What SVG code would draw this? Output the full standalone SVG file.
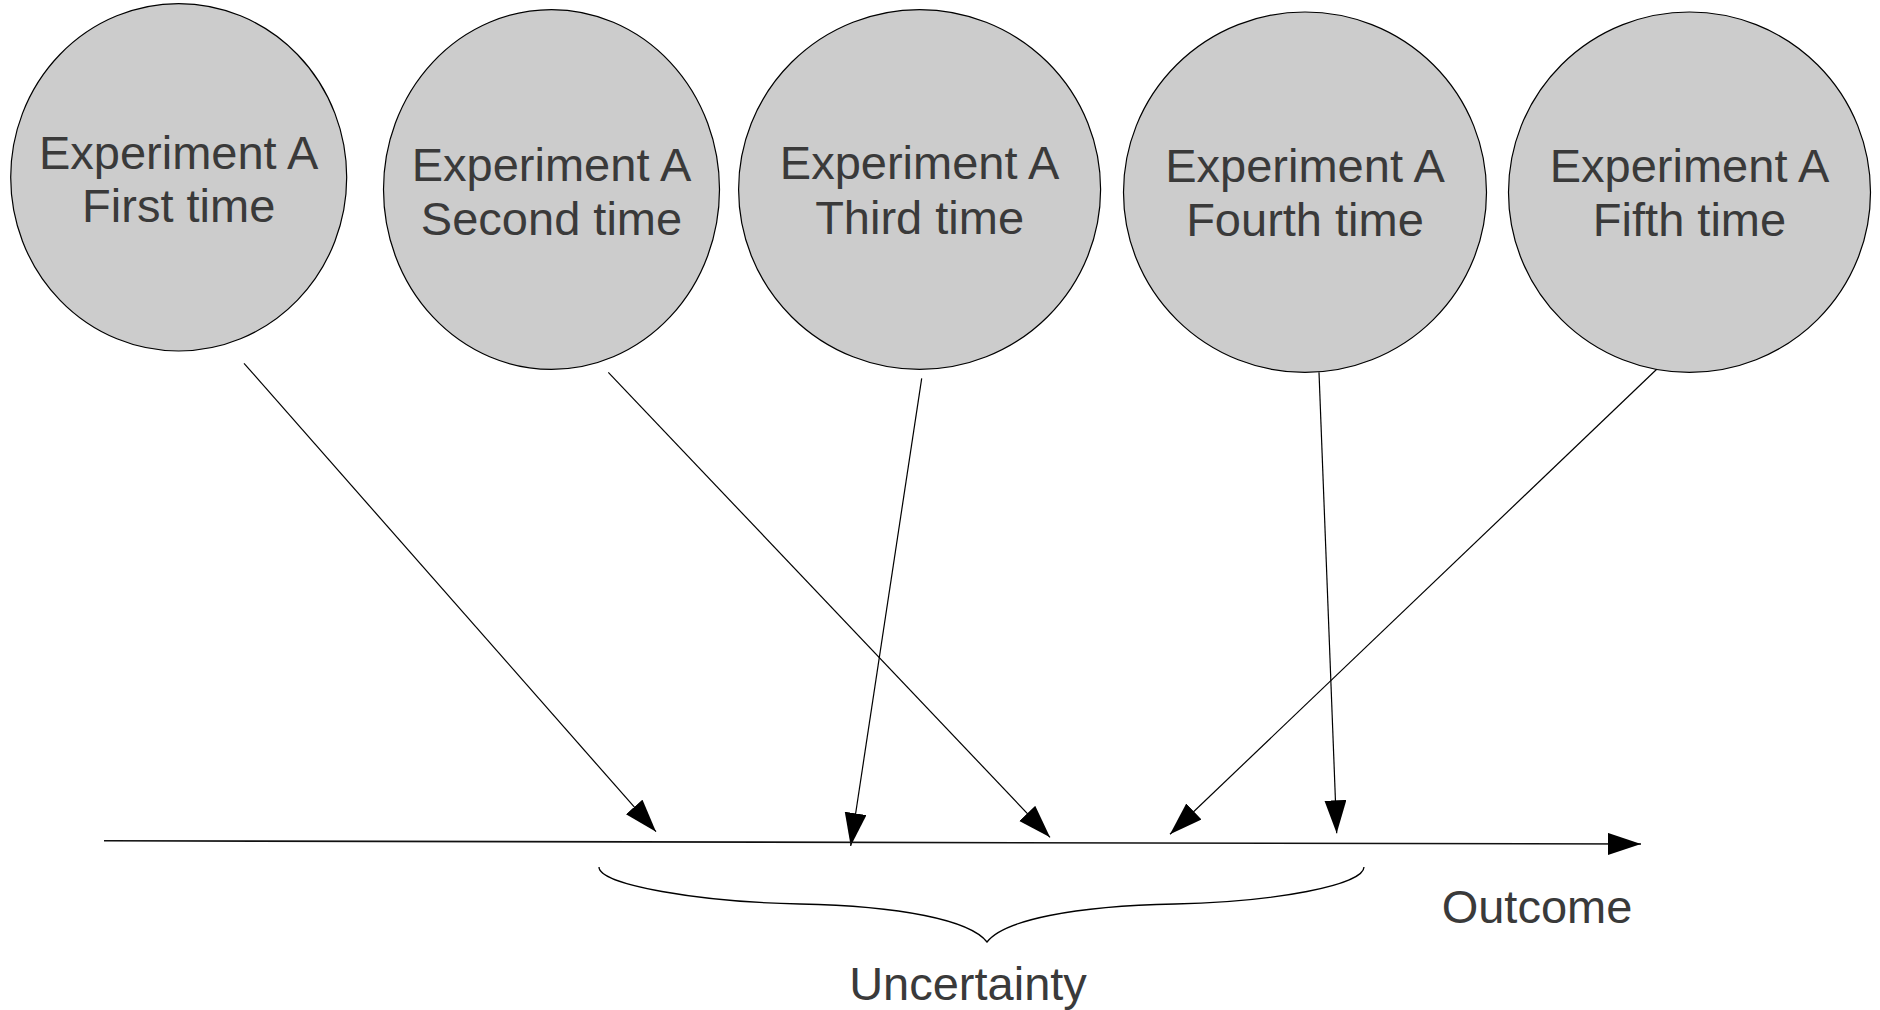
<svg xmlns="http://www.w3.org/2000/svg" width="1880" height="1010" viewBox="0 0 1880 1010">
<style>
  .node ellipse { fill: #cccccc; stroke: #000000; stroke-width: 1.2; }
  .lbl { font-family: "Liberation Sans", Arial, sans-serif; font-size: 47px; fill: #3a3a3a; text-anchor: middle; }
  .conn { stroke: #000000; stroke-width: 1.2; fill: none; }
  .axis { stroke: #111111; stroke-width: 1.6; fill: none; }
  .brace { stroke: #000000; stroke-width: 1.3; fill: none; }
</style>
<defs>
  <marker id="arrow" markerUnits="userSpaceOnUse" markerWidth="34" markerHeight="24" refX="33" refY="11" orient="auto" viewBox="0 0 34 24">
    <path d="M0,0 L33,11 L0,22 Z" fill="#000000"/>
  </marker>
</defs>
<rect x="0" y="0" width="1880" height="1010" fill="#ffffff"/>

<g id="node-first" class="node">
  <ellipse cx="178.7" cy="177.3" rx="168" ry="173.7"/>
  <text class="lbl" x="178.7" y="169">Experiment A</text>
  <text class="lbl" x="178.7" y="222">First time</text>
</g>
<g id="node-second" class="node">
  <ellipse cx="551.5" cy="189.5" rx="168" ry="179.9"/>
  <text class="lbl" x="551.5" y="181">Experiment A</text>
  <text class="lbl" x="551.5" y="235">Second time</text>
</g>
<g id="node-third" class="node">
  <ellipse cx="919.6" cy="189.5" rx="181" ry="179.9"/>
  <text class="lbl" x="919.6" y="179">Experiment A</text>
  <text class="lbl" x="919.6" y="233.5">Third time</text>
</g>
<g id="node-fourth" class="node">
  <ellipse cx="1305" cy="192.2" rx="181.5" ry="180.2"/>
  <text class="lbl" x="1305" y="182">Experiment A</text>
  <text class="lbl" x="1305" y="236">Fourth time</text>
</g>
<g id="node-fifth" class="node">
  <ellipse cx="1689.5" cy="192.2" rx="181" ry="180.2"/>
  <text class="lbl" x="1689.5" y="182">Experiment A</text>
  <text class="lbl" x="1689.5" y="236">Fifth time</text>
</g>

<g id="connectors">
  <line class="conn" x1="244" y1="363.3" x2="656" y2="831.7" marker-end="url(#arrow)"/>
  <line class="conn" x1="608.3" y1="372.3" x2="1050" y2="837.3" marker-end="url(#arrow)"/>
  <line class="conn" x1="921.7" y1="378.3" x2="850.7" y2="846" marker-end="url(#arrow)"/>
  <line class="conn" x1="1319" y1="372.3" x2="1336.7" y2="833.3" marker-end="url(#arrow)"/>
  <line class="conn" x1="1656.7" y1="369.3" x2="1170" y2="834.3" marker-end="url(#arrow)"/>
  <line class="axis" x1="104" y1="840.8" x2="1641" y2="844" marker-end="url(#arrow)"/>
</g>

<g id="uncertainty-brace">
  <path class="brace" d="M599,867 C599,885 700,902 800,904 C900,906 970,920 987,942 C1004,920 1074,906 1175,904 C1275,902 1364,885 1364,867"/>
</g>

<g id="labels">
  <text class="lbl" x="968" y="1000">Uncertainty</text>
  <text class="lbl" x="1537" y="923">Outcome</text>
</g>
</svg>
